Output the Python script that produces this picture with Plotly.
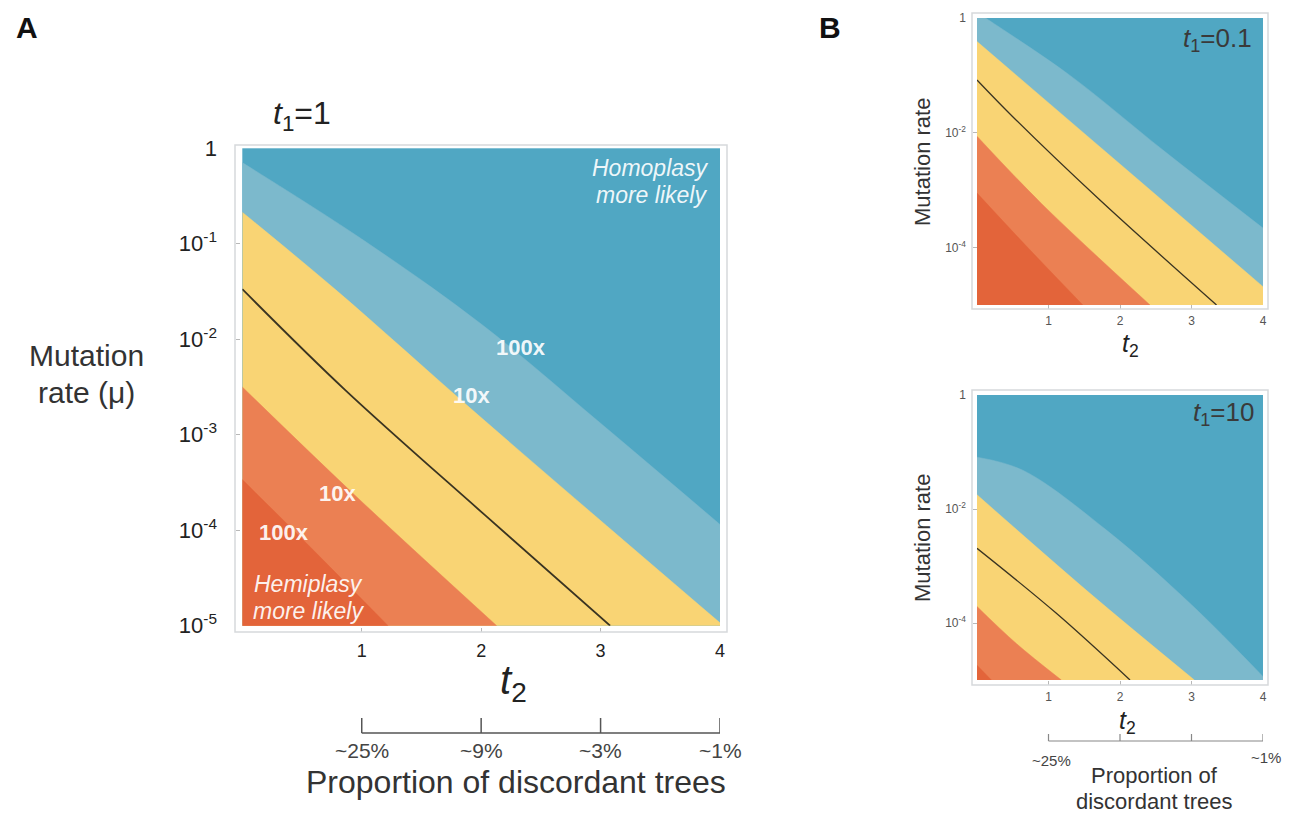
import plotly.graph_objects as go

# ---------------- data ----------------
# contour boundaries: t2 values and log10(mutation rate) values
# Panel A, t1 = 1
A_hemi100_t2 = [0.0, 0.50, 1.22]
A_hemi100_lmu = [-3.47, -4.09, -5.0]
A_hemi10_t2 = [0.0, 0.94, 2.13]
A_hemi10_lmu = [-2.50, -3.63, -5.0]
A_equal_t2 = [0.0, 0.86, 2.03, 3.08]
A_equal_lmu = [-1.475, -2.53, -3.84, -5.0]
A_homo10_t2 = [0.0, 0.78, 1.99, 4.0]
A_homo10_lmu = [-0.67, -1.48, -2.81, -4.97]
A_homo100_t2 = [0.0, 1.0, 2.0, 3.0, 4.0]
A_homo100_lmu = [-0.15, -0.95, -1.84, -2.88, -3.94]

# Panel B top, t1 = 0.1
B1_hemi100_t2 = [0.0, 0.65, 1.48]
B1_hemi100_lmu = [-3.05, -3.92, -5.0]
B1_hemi10_t2 = [0.0, 0.90, 2.42]
B1_hemi10_lmu = [-2.06, -3.23, -5.0]
B1_equal_t2 = [0.0, 0.50, 1.70, 3.35]
B1_equal_lmu = [-1.08, -1.72, -3.15, -5.0]
B1_homo10_t2 = [0.0, 1.77, 4.0]
B1_homo10_lmu = [-0.41, -2.30, -4.68]
B1_homo100_t2 = [0.0, 0.12, 1.30, 2.60, 4.0]
B1_homo100_lmu = [0.10, 0.0, -1.0, -2.30, -3.66]

# Panel B bottom, t1 = 10
B2_hemi100_t2 = [0.0, 0.20]
B2_hemi100_lmu = [-4.74, -5.0]
B2_hemi10_t2 = [0.0, 0.55, 1.18]
B2_hemi10_lmu = [-3.71, -4.36, -5.0]
B2_equal_t2 = [0.0, 1.11, 2.14]
B2_equal_lmu = [-2.69, -3.83, -5.0]
B2_homo10_t2 = [0.0, 1.58, 3.04]
B2_homo10_lmu = [-1.75, -3.48, -5.0]
B2_homo100_t2 = [0.0, 0.64, 1.81, 3.0, 4.0]
B2_homo100_lmu = [-1.09, -1.32, -2.37, -3.68, -4.94]

t2_ticks = [1, 2, 3, 4]
A_mu_ticks = [1, 1e-1, 1e-2, 1e-3, 1e-4, 1e-5]
A_mu_ticktext = ["1", "10<sup>-1</sup>", "10<sup>-2</sup>", "10<sup>-3</sup>",
                 "10<sup>-4</sup>", "10<sup>-5</sup>"]
B_mu_ticks = [1, 1e-2, 1e-4]
B_mu_ticktext = ["1", "10<sup>-2</sup>", "10<sup>-4</sup>"]
A_prop_ticks = [1, 2, 3, 4]
A_prop_text = ["~25%", "~9%", "~3%", "~1%"]
B_prop_ticks = [1, 2, 3, 4]
B_prop_text = ["~25%", "", "", "~1%"]

# ---------------- style ----------------
W, H = 1295, 822
OFF = 8  # page body margin
FONT = "Liberation Sans, Arial, sans-serif"
DARK_BLUE = "#50a7c3"
LIGHT_BLUE = "#7cb9cc"
YELLOW = "#f9d474"
LIGHT_OR = "#eb8053"
DARK_OR = "#e3643a"
LINE = "#3a3422"
FRAME = "#d6d9db"


def px(x):
    return (x - OFF) / W


def py(y):
    return 1 - (y - OFF) / H


fig = go.Figure()


def add_panel(xa, ya, homo100, homo10, hemi10, hemi100, equal, lw):
    for (t, l), c in [(homo100, LIGHT_BLUE), (homo10, YELLOW),
                      (hemi10, LIGHT_OR), (hemi100, DARK_OR)]:
        fig.add_trace(go.Scatter(
            x=t, y=[10 ** v for v in l], mode="lines",
            line=dict(color=c, width=0.5, shape="spline"),
            fill="tozeroy", fillcolor=c, xaxis=xa, yaxis=ya,
            hoverinfo="skip", showlegend=False))
    t, l = equal
    fig.add_trace(go.Scatter(
        x=t, y=[10 ** v for v in l], mode="lines",
        line=dict(color=LINE, width=lw, shape="spline"),
        xaxis=xa, yaxis=ya, hoverinfo="skip", showlegend=False))


add_panel("x", "y", (A_homo100_t2, A_homo100_lmu), (A_homo10_t2, A_homo10_lmu),
          (A_hemi10_t2, A_hemi10_lmu), (A_hemi100_t2, A_hemi100_lmu),
          (A_equal_t2, A_equal_lmu), 1.8)
add_panel("x2", "y2", (B1_homo100_t2, B1_homo100_lmu), (B1_homo10_t2, B1_homo10_lmu),
          (B1_hemi10_t2, B1_hemi10_lmu), (B1_hemi100_t2, B1_hemi100_lmu),
          (B1_equal_t2, B1_equal_lmu), 1.3)
add_panel("x3", "y3", (B2_homo100_t2, B2_homo100_lmu), (B2_homo10_t2, B2_homo10_lmu),
          (B2_hemi10_t2, B2_hemi10_lmu), (B2_hemi100_t2, B2_hemi100_lmu),
          (B2_equal_t2, B2_equal_lmu), 1.3)


def xax(dom, pos, fs, standoff, color):
    return dict(domain=dom, range=[0, 4], anchor="free", position=pos,
                tickvals=t2_ticks, ticks="inside", ticklen=4, tickcolor="#b8b8b8",
                showline=False, showgrid=False, zeroline=False,
                tickfont=dict(family=FONT, size=fs, color=color),
                ticklabelstandoff=standoff, fixedrange=True)


def yax(dom, pos, vals, text, fs, standoff, color):
    return dict(domain=dom, type="log", range=[-5, 0], anchor="free", position=pos,
                tickvals=vals, ticktext=text, ticks="inside", ticklen=4,
                tickcolor="#b8b8b8", showline=False, showgrid=False, zeroline=False,
                tickfont=dict(family=FONT, size=fs, color=color),
                ticklabelstandoff=standoff, fixedrange=True)


fig.update_layout(
    width=W, height=H, autosize=False,
    margin=dict(l=0, r=0, t=0, b=0, pad=0, autoexpand=False),
    paper_bgcolor="white", plot_bgcolor=DARK_BLUE,
    xaxis=xax([px(242.3), px(720)], py(632), 18, 6, "#222"),
    yaxis=yax([py(625.7), py(148.3)], px(235), A_mu_ticks, A_mu_ticktext, 22, 18, "#222"),
    xaxis2=xax([px(977), px(1263)], py(309), 12, 3, "#555"),
    yaxis2=yax([py(305), py(18)], px(972), B_mu_ticks, B_mu_ticktext, 12, 6, "#555"),
    xaxis3=xax([px(977), px(1263)], py(685), 12, 3, "#555"),
    yaxis3=yax([py(680), py(395)], px(972), B_mu_ticks, B_mu_ticktext, 12, 6, "#555"),
)

shapes = []
# light frames around the three panels
for (x0, x1, y0, y1) in [(235, 727, 145, 632), (972, 1268, 13, 309), (972, 1268, 390, 685)]:
    shapes.append(dict(type="rect", xref="paper", yref="paper",
                       x0=px(x0), x1=px(x1), y0=py(y0), y1=py(y1),
                       line=dict(color=FRAME, width=1.5), fillcolor="rgba(0,0,0,0)"))
# "proportion of discordant trees" scales, ticks at the t2 tick values
shapes.append(dict(type="line", xref="x", yref="paper", x0=A_prop_ticks[0], x1=A_prop_ticks[-1],
                   y0=py(733), y1=py(733), line=dict(color="#555", width=1.5)))
for t in A_prop_ticks:
    shapes.append(dict(type="line", xref="x", yref="paper", x0=t, x1=t,
                       y0=py(733), y1=py(718), line=dict(color="#555", width=1.5)))
shapes.append(dict(type="line", xref="x3", yref="paper", x0=B_prop_ticks[0], x1=B_prop_ticks[-1],
                   y0=py(741), y1=py(741), line=dict(color="#888", width=1.2)))
for t in B_prop_ticks:
    shapes.append(dict(type="line", xref="x3", yref="paper", x0=t, x1=t,
                       y0=py(741), y1=py(734), line=dict(color="#888", width=1.2)))
fig.update_layout(shapes=shapes)

ann = []


def A(text, x, y, size, color="#222", xanchor="center", xref="paper", **kw):
    d = dict(text=text, x=x if xref != "paper" else px(x), y=py(y), xref=xref, yref="paper",
             showarrow=False, xanchor=xanchor, yanchor="middle",
             font=dict(family=FONT, size=size, color=color))
    d.update(kw)
    ann.append(d)


A("<b>A</b>", 27, 28, 30, "#111")
A("<b>B</b>", 830, 28, 30, "#111")
A("<i>t</i><sub>1</sub>=1", 302, 115, 32, "#222")
A("Mutation", 86, 355, 30, "#333")
A("rate (μ)", 86, 392, 30, "#333")
A("<i>t</i><sub>2</sub>", 514, 683, 40, "#222")
for t, s in zip(A_prop_ticks, A_prop_text):
    A(s, t, 750, 21, "#444", xref="x")
A("Proportion of discordant trees", 516, 782, 32, "#333")

WHITE = "rgba(255,255,255,0.92)"
A("<i>Homoplasy</i>", 711, 168, 23, WHITE, xanchor="right")
A("<i>more likely</i>", 709, 195, 23, WHITE, xanchor="right")
A("<b>100x</b>", 521, 347, 22, WHITE)
A("<b>10x</b>", 471, 395, 22, WHITE)
A("<b>10x</b>", 337, 493, 22, WHITE)
A("<b>100x</b>", 284, 532, 22, WHITE)
A("<i>Hemiplasy</i>", 308, 584, 23, WHITE)
A("<i>more likely</i>", 308, 611, 23, WHITE)

A("<i>t</i><sub>1</sub>=0.1", 1254, 40, 26, "#3a3a3a", xanchor="right")
A("<i>t</i><sub>1</sub>=10", 1256, 413, 26, "#3a3a3a", xanchor="right")
A("Mutation rate", 922, 162, 22, "#333", textangle=-90)
A("Mutation rate", 922, 538, 22, "#333", textangle=-90)
A("<i>t</i><sub>2</sub>", 1130, 345, 25, "#222")
A("<i>t</i><sub>2</sub>", 1127, 722, 25, "#222")
A(B_prop_text[0], 1051, 760, 15, "#444")
A(B_prop_text[3], 1266, 757, 15, "#444")
A("Proportion of", 1154, 775, 22, "#333")
A("discordant trees", 1154, 801, 22, "#333")

fig.update_layout(annotations=ann)
fig.write_html("out.html")
